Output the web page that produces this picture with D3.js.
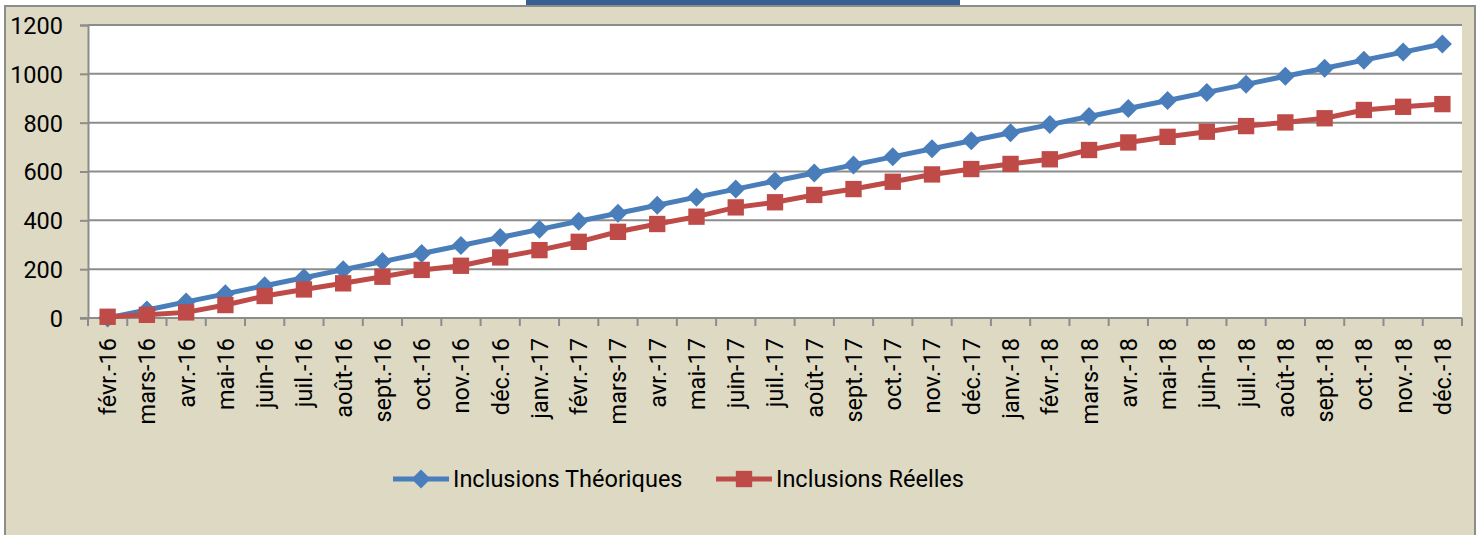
<!DOCTYPE html>
<html>
<head>
<meta charset="utf-8">
<script src="https://cdn.jsdelivr.net/npm/d3@7"></script>
<style>
  body { margin: 0; background: #fff; }
  svg text { font-family: Roboto, "Liberation Sans", sans-serif; fill: #000; }
</style>
</head>
<body>
<script>
var months = ['févr.-16','mars-16','avr.-16','mai-16','juin-16','juil.-16','août-16','sept.-16','oct.-16','nov.-16','déc.-16',
  'janv.-17','févr.-17','mars-17','avr.-17','mai-17','juin-17','juil.-17','août-17','sept.-17','oct.-17','nov.-17','déc.-17',
  'janv.-18','févr.-18','mars-18','avr.-18','mai-18','juin-18','juil.-18','août-18','sept.-18','oct.-18','nov.-18','déc.-18'];
var theoriques = [0, 33, 66, 99, 132, 165, 198, 231, 264, 297, 330, 363, 396, 429, 462, 495, 528, 561, 594, 627, 660,
  693, 726, 759, 792, 825, 858, 891, 924, 957, 990, 1023, 1056, 1089, 1122];
var reelles = [5, 13, 23, 53, 90, 117, 142, 169, 197, 214, 248, 278, 312, 353, 385, 415, 453, 474, 504, 528, 558,
  588, 610, 631, 650, 688, 719, 742, 763, 786, 801, 818, 852, 865, 876];
var yTicks = [0, 200, 400, 600, 800, 1000, 1200];
var seriesNames = ['Inclusions Théoriques', 'Inclusions Réelles'];
var colors = ['#4a7ebb', '#be4b48'];

var w = 1482, h = 535;
var plotLeft = 88, plotRight = 1462, plotTop = 25, plotBottom = 318;

var svg = d3.select("body").append("svg")
    .attr("width", w)
    .attr("height", h);

// frame
svg.append("rect")
    .attr("x", 5).attr("y", 6)
    .attr("width", 1470).attr("height", 540)
    .attr("fill", "#ddd9c3")
    .attr("stroke", "#8c8c8c")
    .attr("stroke-width", 2);

// blue bar on top
svg.append("rect")
    .attr("x", 526).attr("y", 0)
    .attr("width", 434).attr("height", 5)
    .attr("fill", "#376092");

var x = d3.scaleBand().domain(months).range([plotLeft, plotRight]).padding(0);
var y = d3.scaleLinear().domain([0, 1200]).range([plotBottom, plotTop]);

svg.append("rect")
    .attr("x", plotLeft).attr("y", plotTop)
    .attr("width", plotRight - plotLeft).attr("height", plotBottom - plotTop)
    .attr("fill", "#fff");

// gridlines
svg.append("g").selectAll("line")
    .data(yTicks.filter(function(d){ return d > 0; }))
    .enter().append("line")
    .attr("x1", plotLeft).attr("x2", plotRight)
    .attr("y1", function(d){ return y(d); })
    .attr("y2", function(d){ return y(d); })
    .attr("stroke", "#8c8c8c")
    .attr("stroke-width", 2);

// y axis
var yAxis = d3.axisLeft(y).tickValues(yTicks).tickFormat(d3.format("d")).tickSize(8).tickPadding(17);
var gy = svg.append("g").attr("transform", "translate(" + plotLeft + ",0)").call(yAxis);
gy.select(".domain").attr("stroke", "#8c8c8c").attr("stroke-width", 2);
gy.selectAll(".tick line").attr("stroke", "#8c8c8c").attr("stroke-width", 2);
gy.selectAll(".tick text").style("font-size", "23.5px").style("font-family", "Roboto, sans-serif").attr("dy", "0.36em");

// x axis
var gx = svg.append("g").attr("transform", "translate(0," + plotBottom + ")");
gx.append("line")
    .attr("x1", plotLeft - 8).attr("x2", plotRight)
    .attr("stroke", "#8c8c8c").attr("stroke-width", 2);
gx.selectAll(".xt")
    .data(months.concat(['end']))
    .enter().append("line")
    .attr("x1", function(d, i){ return plotLeft + i * x.bandwidth(); })
    .attr("x2", function(d, i){ return plotLeft + i * x.bandwidth(); })
    .attr("y1", 0).attr("y2", 8)
    .attr("stroke", "#8c8c8c").attr("stroke-width", 2);
gx.selectAll(".xl")
    .data(months)
    .enter().append("text")
    .attr("transform", function(d){
        return "translate(" + (x(d) + x.bandwidth() / 2) + ",20) rotate(-90)";
    })
    .attr("text-anchor", "end")
    .attr("dy", "0.36em")
    .style("font-size", "23.5px")
    .text(function(d){ return d; });

// series
var series = [theoriques, reelles];
var symbols = [d3.symbol().type(d3.symbolDiamond2).size(230), d3.symbol().type(d3.symbolSquare2).size(340)];
var line = d3.line()
    .x(function(d, i){ return x(months[i]) + x.bandwidth() / 2; })
    .y(function(d){ return y(d); });

series.forEach(function(vals, s) {
    var g = svg.append("g");
    g.append("path")
        .datum(vals)
        .attr("d", line)
        .attr("fill", "none")
        .attr("stroke", colors[s])
        .attr("stroke-width", 5);
    g.selectAll(".pt")
        .data(vals)
        .enter().append("path")
        .attr("transform", function(d, i){
            return "translate(" + (x(months[i]) + x.bandwidth() / 2) + "," + y(d) + ")";
        })
        .attr("d", symbols[s])
        .attr("fill", colors[s]);
});

// legend
var legendX = [393, 716];
var leg = svg.append("g");
seriesNames.forEach(function(name, s) {
    var lx = legendX[s], ly = 479;
    leg.append("line")
        .attr("x1", lx).attr("x2", lx + 56)
        .attr("y1", ly).attr("y2", ly)
        .attr("stroke", colors[s]).attr("stroke-width", 5);
    leg.append("path")
        .attr("transform", "translate(" + (lx + 28) + "," + ly + ")")
        .attr("d", symbols[s])
        .attr("fill", colors[s]);
    leg.append("text")
        .attr("x", lx + 60).attr("y", ly)
        .attr("dy", "0.36em")
        .style("font-size", "23.5px")
        .text(name);
});
</script>
</body>
</html>
